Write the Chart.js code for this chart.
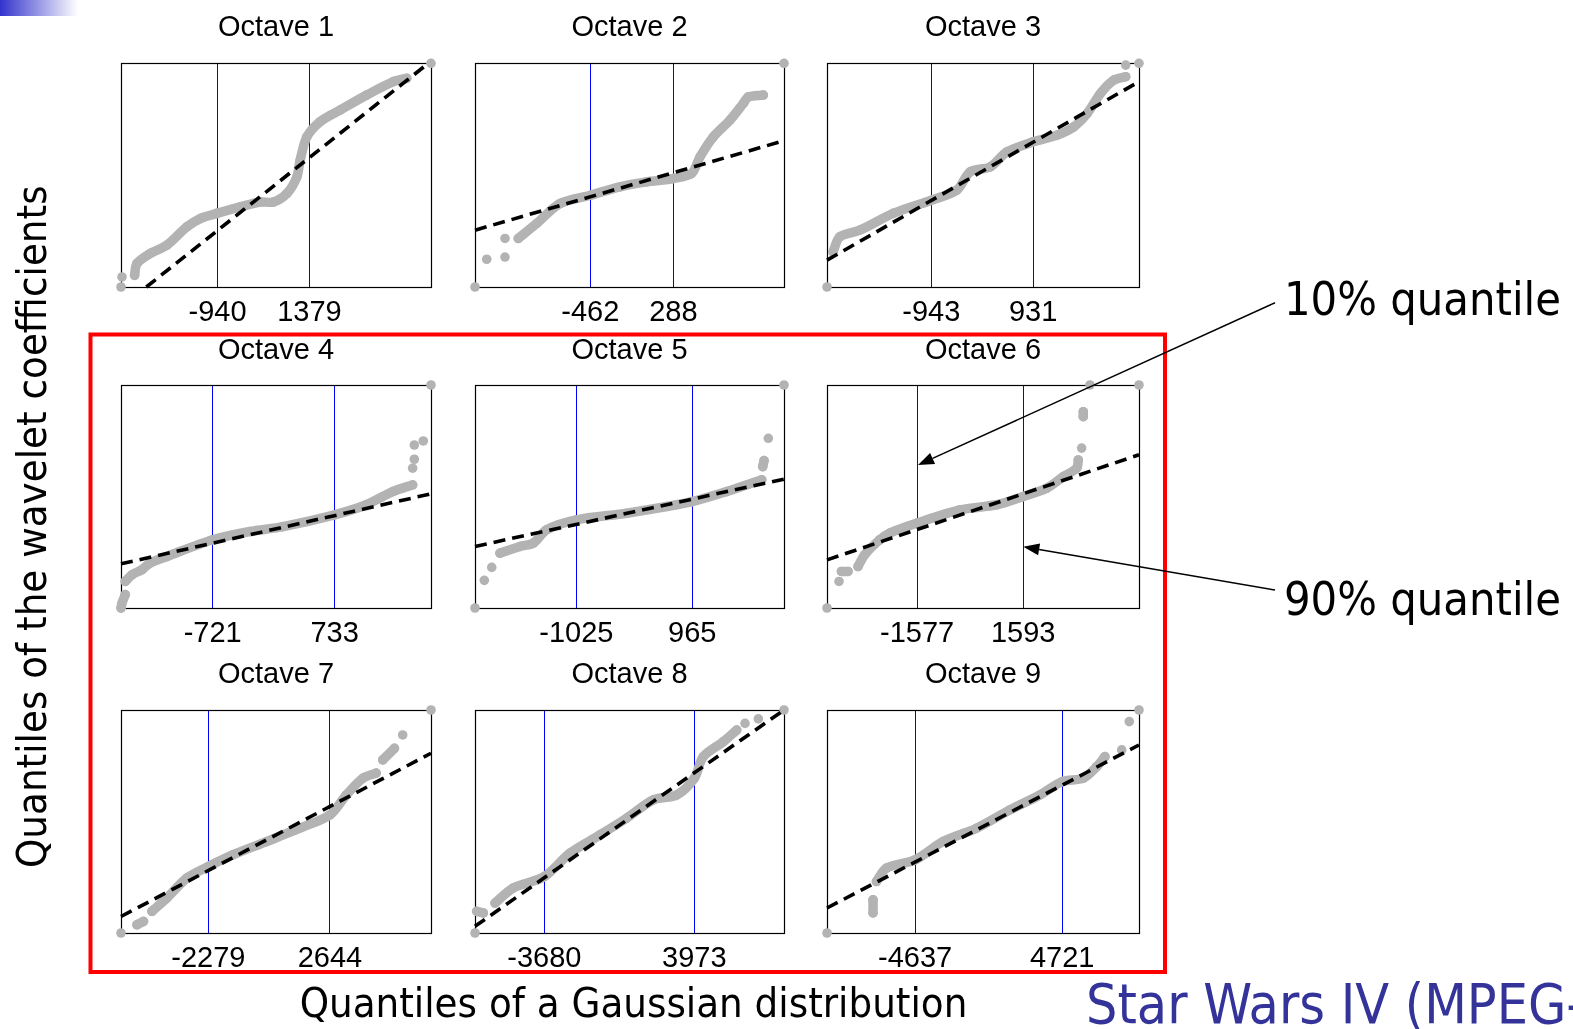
<!DOCTYPE html>
<html><head><meta charset="utf-8">
<script src="https://cdn.jsdelivr.net/npm/chart.js@4.4.1/dist/chart.umd.min.js"></script>
<style>
html,body{margin:0;padding:0;background:#fff;width:1573px;height:1029px;overflow:hidden;}
#stage{position:relative;width:1573px;height:1029px;}
canvas.pc{position:absolute;}
#ov{position:absolute;left:0;top:0;pointer-events:none;}
.sl{font-family:'DejaVu Sans Condensed','DejaVu Sans',sans-serif;font-stretch:condensed;}
</style></head><body>
<div id="stage"></div>
<script>
// ---------- data ----------
const octaves = ['Octave 1','Octave 2','Octave 3','Octave 4','Octave 5','Octave 6','Octave 7','Octave 8','Octave 9'];
// 10% and 90% quantile tick values
const q10 = [-940, -462, -943, -721, -1025, -1577, -2279, -3680, -4637];
const q90 = [1379, 288, 931, 733, 965, 1593, 2644, 3973, 4721];
// x-axis range of each panel
const xMin = [-3375, -1504, -2865, -1815, -2763, -4268, -5814, -7216, -10239];
const xMax = [4447, 1288, 2882, 1883, 2538, 5052, 6735, 8549, 9604];
// empirical quantiles (x = Gaussian quantile, y = relative coefficient quantile 0..100); null = gap
const oct1X = [-3375, null, -3350, null, -3032, -2972, -2637, -2216, -1711, -1376, -955, -368, 136, 472, 810, 1062, 1145, 1314, 1649, 2153, 2826, 3497, 3835, null, 4447];
const oct1Y = [0, null, 4.5, null, 5.2, 10.5, 15.0, 18.7, 26.9, 30.6, 32.9, 35.8, 38.0, 38.0, 41.8, 49.2, 56.7, 67.1, 73.9, 79.1, 85.8, 91.8, 93.3, null, 100];
const oct2X = [-1504, null, -1398, null, -1233, null, -1233, null, -1113, -946, -736, -462, -194, 48, 288, 454, 529, 649, 800, 921, 966, 1101, null, 1288];
const oct2Y = [0, null, 12.4, null, 13.4, null, 21.7, null, 21.7, 28.4, 37.3, 41.0, 44.8, 47.0, 48.5, 50.8, 58.2, 67.1, 74.6, 82.1, 85.0, 85.8, null, 100];
const oct3X = [-2865, null, -2754, -2630, -2261, -1645, -943, -474, -228, 142, 450, 931, 1375, 1681, 1929, 2175, 2420, 2637, null, 2637, null, 2882];
const oct3Y = [0, null, 15.7, 22.4, 25.4, 32.9, 38.8, 43.3, 51.5, 53.7, 60.4, 64.9, 67.9, 71.6, 77.6, 86.6, 92.5, 94.0, null, 99.2, null, 100];
const oct4X = [-1815, -1803, -1764, null, -1764, -1684, -1565, -1466, -1268, -721, -278, 118, 733, 1110, 1426, 1664, null, 1664, null, 1684, null, 1684, null, 1791, null, 1883];
const oct4Y = [0, 2.2, 6.0, null, 11.9, 14.9, 17.2, 20.2, 23.1, 30.6, 34.3, 36.5, 41.8, 46.3, 52.2, 55.2, null, 62.7, null, 66.7, null, 73.1, null, 74.9, null, 100];
const oct5X = [-2763, null, -2603, null, -2476, null, -2334, -1991, -1763, -1533, -1025, -160, 526, 965, 1555, 2156, null, 2173, 2196, null, 2269, null, 2538];
const oct5Y = [0, null, 12.4, null, 18.2, null, 24.6, 27.6, 29.1, 35.1, 39.5, 42.5, 45.5, 47.7, 52.2, 57.5, null, 63.4, 66.1, null, 76.1, null, 100];
const oct6X = [-4268, null, -3909, null, -3837, -3640, null, -3341, -3141, -2692, -2393, -1577, -300, 797, 1593, 2293, 2789, 3190, 3238, null, 3339, null, 3387, 3387, null, 3587, null, 5052];
const oct6Y = [0, null, 11.9, null, 16.4, 16.4, null, 18.6, 23.9, 30.6, 33.6, 38.1, 44.0, 46.3, 50.0, 53.7, 58.9, 62.7, 66.4, null, 71.7, null, 85.8, 88.0, null, 100, null, 100];
const oct7X = [-5814, null, -5168, -4902, null, -4563, -3958, -3151, -2279, -1270, 77, 1421, 2644, 3306, 3976, 4516, null, 4783, 5255, null, 5590, null, 6735];
const oct7Y = [0, null, 3.7, 5.2, null, 9.7, 15.7, 24.6, 29.8, 35.1, 41.0, 47.0, 53.0, 61.9, 69.4, 71.7, null, 77.6, 82.8, null, 88.8, null, 100];
const oct8X = [-7216, null, -7129, -6792, null, -6195, -5262, -3680, -2369, -838, 524, 1881, 3075, 3973, 4432, 5453, 6136, null, 6560, null, 7238, null, 8549];
const oct8Y = [0, null, 9.7, 9.0, null, 13.4, 20.2, 25.3, 35.8, 44.0, 51.5, 59.7, 61.9, 69.4, 79.1, 85.8, 91.0, null, 94.0, null, 96.0, null, 100];
const oct9X = [-10239, null, -7311, -7311, null, -7094, -6458, -4637, -2855, -728, 1392, 3301, 4721, 6058, 6911, 7439, null, 8502, null, 8986, null, 9604];
const oct9Y = [0, null, 9.0, 14.9, null, 23.1, 29.1, 32.8, 41.0, 47.0, 55.2, 61.9, 67.9, 69.4, 74.6, 79.1, null, 82.1, null, 94.8, null, 100];
// dashed reference line end points
const fitX0 = [-2737, -1504, -2865, -1815, -2763, -4268, -5814, -7216, -10239];
const fitY0 = [0, 25.4, 12.0, 19.8, 27.6, 21.6, 7.4, 3.0, 11.2];
const fitX1 = [4379, 1288, 2882, 1883, 2538, 5052, 6735, 8549, 9604];
const fitY1 = [100, 65.4, 91.8, 51.2, 57.8, 68.7, 80.6, 100, 84.3];

const seriesX = [oct1X, oct2X, oct3X, oct4X, oct5X, oct6X, oct7X, oct8X, oct9X];
const seriesY = [oct1Y, oct2Y, oct3Y, oct4Y, oct5Y, oct6Y, oct7Y, oct8Y, oct9Y];

// ---------- layout ----------
const colLeft = [121, 475, 827];
const colRight = [431, 784, 1139];
const rowTop = [63.3, 385, 710];
const rowBottom = [286.7, 608.3, 933.3];
const rowCanvasTop = [10, 333, 657];
const PAD = 8, AXIS_H = 50, FONT_PX = 29, TITLE_LH = FONT_PX * 1.2, TITLE_TOP = 1;
const FONT = {family: "'Liberation Sans', Arial, sans-serif", size: FONT_PX, weight: 'normal'};

const frame = {
  id: 'frame',
  beforeDatasetsDraw(chart) {
    const a = chart.chartArea, c = chart.ctx;
    c.save();
    c.strokeStyle = '#000';
    c.lineWidth = 1.2;
    c.strokeRect(Math.round(a.left) + 0.5, Math.round(a.top) + 0.5,
                 Math.round(a.right) - Math.round(a.left), Math.round(a.bottom) - Math.round(a.top));
    c.restore();
  }
};

const stage = document.getElementById('stage');
for (let i = 0; i < 9; i++) {
  const r = Math.floor(i / 3), col = i % 3;
  const left = colLeft[col] - PAD;
  const width = colRight[col] - colLeft[col] + 2 * PAD;
  const top = rowCanvasTop[r];
  const height = Math.round(rowBottom[r] - top + AXIS_H);
  const titleBottom = rowTop[r] - top - TITLE_LH - TITLE_TOP;

  const cv = document.createElement('canvas');
  cv.className = 'pc';
  cv.width = width; cv.height = height;
  cv.style.left = left + 'px'; cv.style.top = top + 'px';
  cv.style.width = width + 'px'; cv.style.height = height + 'px';
  stage.appendChild(cv);

  const xs = seriesX[i], ys = seriesY[i];
  const pts = xs.map((x, k) => ys[k] === null ? {x: xs[k - 1], y: null} : {x: x, y: ys[k]});
  const lo = q10[i], hi = q90[i];

  new Chart(cv, {
    type: 'line',
    data: {
      datasets: [
        {
          data: [{x: fitX0[i], y: fitY0[i]}, {x: fitX1[i], y: fitY1[i]}],
          borderColor: '#000', borderWidth: 3.6, borderDash: [12, 7],
          pointRadius: 0, clip: false, order: 1, tension: 0
        },
        {
          data: pts,
          borderColor: '#b3b3b3', backgroundColor: '#b3b3b3',
          pointBackgroundColor: '#b3b3b3', pointBorderWidth: 0,
          borderWidth: 9.5, pointRadius: 4.8, pointHoverRadius: 4.8,
          borderCapStyle: 'round', borderJoinStyle: 'round',
          spanGaps: false, clip: false, order: 2, tension: 0.3
        }
      ]
    },
    options: {
      responsive: false, animation: false, events: [],
      layout: {autoPadding: false, padding: {left: PAD, right: PAD, top: 0, bottom: 0}},
      plugins: {
        legend: {display: false},
        tooltip: {enabled: false},
        title: {display: true, text: octaves[i], color: '#000', font: FONT,
                padding: {top: TITLE_TOP, bottom: titleBottom}}
      },
      scales: {
        x: {
          type: 'linear', min: xMin[i], max: xMax[i],
          afterBuildTicks: (ax) => { ax.ticks = [{value: lo}, {value: hi}]; },
          afterFit: (ax) => { ax.height = AXIS_H; },
          ticks: {color: '#000', font: FONT, padding: 9, autoSkip: false, maxRotation: 0,
                  callback: (v) => String(v)},
          grid: {color: '#0000ff', lineWidth: 1, drawTicks: false},
          border: {display: false}
        },
        y: {type: 'linear', min: 0, max: 100, display: false}
      }
    },
    plugins: [frame]
  });
}
</script>
<svg id="ov" width="1573" height="1029" xmlns="http://www.w3.org/2000/svg">
  <defs>
    <linearGradient id="gbar" x1="0" x2="1" y1="0" y2="0">
      <stop offset="0" stop-color="#3333cc"/>
      <stop offset="1" stop-color="#ffffff"/>
    </linearGradient>
  </defs>
  <rect x="0" y="0" width="78" height="16" fill="url(#gbar)"/>
  <rect x="90.5" y="334.5" width="1074.5" height="637.5" fill="none" stroke="#ff0000" stroke-width="4"/>
  <line x1="1275" y1="302.7" x2="932.6" y2="458.4" stroke="#000" stroke-width="1.5"/>
  <polygon points="918,465 935.1,463.9 930.1,452.9" fill="#000"/>
  <line x1="1275" y1="590" x2="1039.1" y2="549.4" stroke="#000" stroke-width="1.5"/>
  <polygon points="1023.3,546.7 1040.1,543.5 1038.1,555.3" fill="#000"/>
  <text class="sl" x="1284" y="315" font-size="46.5" fill="#000">10% quantile</text>
  <text class="sl" x="1284" y="615" font-size="46.5" fill="#000">90% quantile</text>
  <text class="sl" x="1086" y="1023" font-size="55" fill="#333399">Star Wars IV (MPEG-4)</text>
  <text class="sl" x="633.5" y="1017" font-size="41.5" fill="#000" text-anchor="middle">Quantiles of a Gaussian distribution</text>
  <text class="sl" transform="translate(46,526.7) rotate(-90)" font-size="41.5" fill="#000" text-anchor="middle">Quantiles of the wavelet coefficients</text>
</svg>
</body></html>
